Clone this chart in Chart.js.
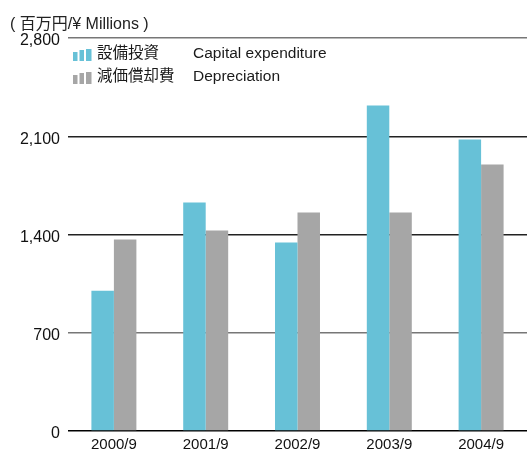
<!DOCTYPE html>
<html>
<head>
<meta charset="utf-8">
<script src="https://cdn.jsdelivr.net/npm/chart.js@4"></script>
<style>
  html, body { margin: 0; padding: 0; background: #fff; }
  #wrap { position: relative; width: 527px; height: 449px; }
  #unit { position: absolute; left: 10px; top: 10px; font: 16px "Liberation Sans", "Noto Sans CJK JP", sans-serif; color: #222; white-space: nowrap; }
</style>
</head>
<body>
<div id="wrap">
  <canvas id="myChart" width="527" height="449"></canvas>
  <div id="unit">( 百万円/¥ Millions )</div>
</div>
<script>
// 数据
const categories = ['2000/9', '2001/9', '2002/9', '2003/9', '2004/9'];
const capexJa = '設備投資';
const capexEn = 'Capital expenditure';
const deprJa = '減価償却費';
const deprEn = 'Depreciation';
const capexValues = [1000, 1628, 1343, 2319, 2077];
const deprValues = [1365, 1429, 1557, 1557, 1899];
const yTicks = [0, 700, 1400, 2100, 2800];

const CYAN = '#67c1d7';
const GRAY = '#a6a6a6';
const FONT = '"Liberation Sans", "Noto Sans CJK JP", sans-serif';

// 图例：小柱状图标 + 日文 + 英文
const legendPlugin = {
  id: 'barLegend',
  afterDraw(chart) {
    const ctx = chart.ctx;
    const rows = [
      { ds: chart.data.datasets[0], en: capexEn, y: 54 },
      { ds: chart.data.datasets[1], en: deprEn, y: 77 }
    ];
    ctx.save();
    ctx.textBaseline = 'middle';
    rows.forEach(r => {
      ctx.fillStyle = r.ds.backgroundColor;
      const base = r.y + 7;
      ctx.fillRect(73, base - 9, 4.5, 9);
      ctx.fillRect(79.5, base - 11, 4.5, 11);
      ctx.fillRect(86, base - 12, 5.5, 12);
      ctx.fillStyle = '#1a1a1a';
      ctx.font = '15.5px ' + FONT;
      ctx.fillText(r.ds.label, 97, r.y);
      ctx.fillText(r.en, 193, r.y);
    });
    ctx.restore();
  }
};

const gridColor = v => (v === 0 ? '#000' : (v === 700 || v === 2800) ? '#777' : '#222');

new Chart(document.getElementById('myChart').getContext('2d'), {
  type: 'bar',
  data: {
    labels: categories,
    datasets: [
      { label: capexJa, data: capexValues, backgroundColor: CYAN, borderWidth: 0 },
      { label: deprJa, data: deprValues, backgroundColor: GRAY, borderWidth: 0 }
    ]
  },
  options: {
    responsive: false,
    animation: false,
    layout: { padding: { top: 38, right: 0, left: 0, bottom: 0 } },
    datasets: { bar: { barPercentage: 1, categoryPercentage: 0.49 } },
    plugins: { legend: { display: false }, tooltip: { enabled: false } },
    scales: {
      x: {
        grid: { display: false, drawTicks: false },
        border: { display: false },
        ticks: { color: '#111', font: { family: FONT, size: 15 }, padding: 5, maxRotation: 0 },
        afterFit: s => { s.height = 18; }
      },
      y: {
        min: 0, max: 2800,
        afterBuildTicks: s => { s.ticks = yTicks.map(v => ({ value: v })); },
        grid: {
          drawTicks: false,
          lineWidth: 1.5,
          color: c => gridColor(c.tick.value)
        },
        border: { display: false },
        ticks: {
          color: '#111',
          padding: 8,
          labelOffset: 3,
          font: { family: FONT, size: 16 },
          callback: v => v.toLocaleString('en-US')
        },
        afterFit: s => { s.width = 68; }
      }
    }
  },
  plugins: [legendPlugin]
});
</script>
</body>
</html>
